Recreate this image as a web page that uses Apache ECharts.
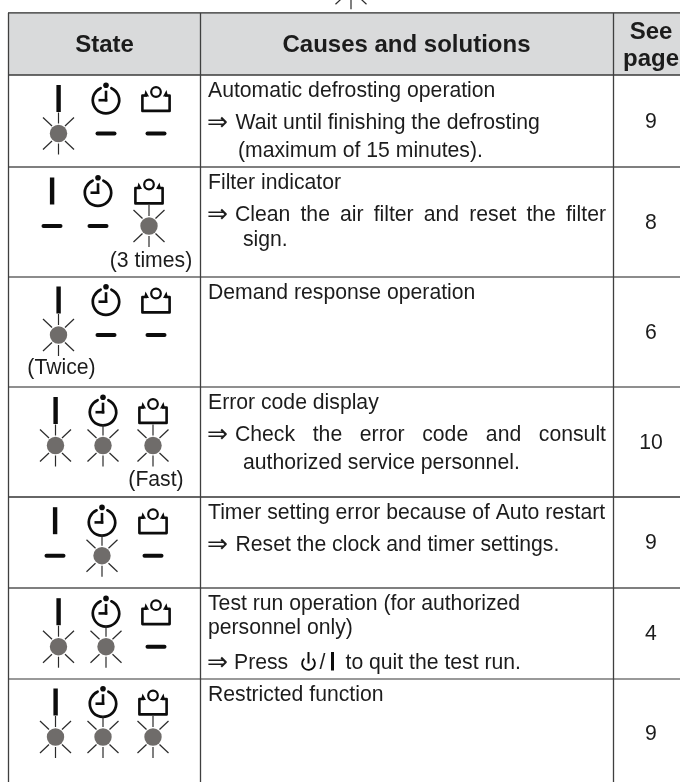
<!DOCTYPE html>
<html>
<head>
<meta charset="utf-8">
<title>Indicator states</title>
<style>
  html, body { margin: 0; padding: 0; background: #fff; }
  #chart { width: 680px; height: 782px; }
</style>
<script src="https://cdn.jsdelivr.net/npm/echarts@6/dist/echarts.min.js"></script>
</head>
<body>
<div id="chart"></div>
<script>
// ---- data of the table ----
var headers = ['State', 'Causes and solutions', 'See', 'page'];
var pages = ['9', '8', '6', '10', '9', '4', '9'];
// lamp state per row: operation, timer, filter (1 flashing, 0 off)
var lampStates = [
  [1, 0, 0],
  [0, 0, 1],
  [1, 0, 0],
  [1, 1, 1],
  [0, 1, 0],
  [1, 1, 0],
  [1, 1, 1]
];
var stateNotes = ['', '(3 times)', '(Twice)', '(Fast)', '', '', ''];
var causes = [
  'Automatic defrosting operation',
  'Filter indicator',
  'Demand response operation',
  'Error code display',
  'Timer setting error because of Auto restart',
  'Test run operation (for authorized',
  'Restricted function'
];
var causesLine2 = ['', '', '', '', '', 'personnel only)', ''];
var solutions = [
  ['Wait until finishing the defrosting', '(maximum of 15 minutes).'],
  ['Clean the air filter and reset the filter', 'sign.'],
  [],
  ['Check the error code and consult', 'authorized service personnel.'],
  ['Reset the clock and timer settings.'],
  ['Press', 'to quit the test run.'],
  []
];

// ---- layout, in page pixels ----
var rowEdges = [75, 167, 277, 387, 497, 588, 679, 788];
var rowLineColors = ['#3a3a3a', '#555', '#666', '#6a6a6a', '#333', '#555', '#777'];
var colEdges = [8.5, 200.5, 613.5];
var lampCols = [
  [58.5, 106, 156],
  [52, 98, 149],
  [58.5, 106, 156],
  [55.5, 103, 153],
  [55, 102, 153],
  [58.5, 106, 156],
  [55.5, 103, 153]
];
var lampY = [133.5, 226, 335, 445.5, 555.7, 646.7, 737];
var noteX = [0, 151, 61.5, 156];
var noteY = [0, 261.5, 368.5, 480.5];
var INK = '#0c0c0c';
var TEXT = '#1c1c1c';
var FONT = '"Liberation Sans", Arial, sans-serif';
var FS = 21.2;
var HEAD_FS = 24;
var ARROW_FS = 24.5;

var measure = document.createElement('canvas').getContext('2d');
function textWidth(s, fs) {
  measure.font = fs + 'px "Liberation Sans"';
  return measure.measureText(s).width;
}

function line(x1, y1, x2, y2, w, color, cap) {
  return { type: 'line', shape: { x1: x1, y1: y1, x2: x2, y2: y2 },
    style: { stroke: color, lineWidth: w, lineCap: cap || 'butt' } };
}
function label(x, y, s, fs, weight, align) {
  return { type: 'text', x: x, y: y,
    style: { text: s, fill: TEXT, font: (weight || 'normal') + ' ' + fs + 'px ' + FONT,
      align: align || 'left', verticalAlign: 'middle' } };
}

// sun-like flashing lamp
function flash(x, y) {
  var parts = [
    { type: 'circle', shape: { cx: x, cy: y, r: 8.7 }, style: { fill: '#6f6c6a' } },
    line(x, y - 21, x, y - 10, 1.2, '#2a2a2a'),
    line(x, y + 10, x, y + 21, 1.2, '#2a2a2a')
  ];
  [[-1, -1], [1, -1], [-1, 1], [1, 1]].forEach(function (d) {
    parts.push(line(x + d[0] * 6.5, y + d[1] * 7.5, x + d[0] * 15.5, y + d[1] * 16, 1.2, '#2a2a2a'));
  });
  return parts;
}
function dash(x, y) {
  return [line(x - 8.5, y, x + 8.5, y, 4, INK, 'round')];
}
function operationIcon(x, y) {
  return [{ type: 'rect', shape: { x: x - 2.1, y: y - 48.5, width: 4.4, height: 27 }, style: { fill: INK } }];
}
function timerIcon(x, y) {
  var cx = x, cy = y - 33.3, r = 13.2;
  return [
    { type: 'arc', shape: { cx: cx, cy: cy, r: r, startAngle: -Math.PI / 2 + 0.42, endAngle: -Math.PI / 2 - 0.42, clockwise: true },
      style: { stroke: INK, lineWidth: 2.7, fill: 'none', lineCap: 'round' } },
    { type: 'circle', shape: { cx: cx, cy: cy - 15, r: 2.8 }, style: { fill: INK } },
    line(cx, cy - 9.5, cx, cy + 1.3, 2.6, INK),
    line(cx - 7.5, cy, cx + 1.3, cy, 2.6, INK)
  ];
}
function filterIcon(x, y) {
  var cy = y - 33;
  return [
    { type: 'circle', shape: { cx: x, cy: cy - 8.5, r: 4.8 }, style: { fill: 'none', stroke: INK, lineWidth: 2.2 } },
    { type: 'polyline',
      shape: { points: [[x - 9, cy - 5], [x - 13.6, cy - 5], [x - 13.6, cy + 10.4], [x + 13.6, cy + 10.4], [x + 13.6, cy - 5], [x + 9, cy - 5]] },
      style: { fill: 'none', stroke: INK, lineWidth: 2.6, lineJoin: 'round' } },
    { type: 'polygon', shape: { points: [[x - 12, cy - 4], [x - 7, cy - 4], [x - 10.5, cy - 10.5]] }, style: { fill: INK } },
    { type: 'polygon', shape: { points: [[x + 12, cy - 4], [x + 7, cy - 4], [x + 10.5, cy - 10.5]] }, style: { fill: INK } }
  ];
}
// a line stretched word by word to the right margin, as the booklet does it
function justified(x0, x1, y, s) {
  var words = s.split(' ');
  var total = words.reduce(function (a, w) { return a + textWidth(w, FS); }, 0);
  var gap = (x1 - x0 - total) / (words.length - 1);
  var x = x0, out = [];
  words.forEach(function (w) {
    out.push(label(x, y, w, FS));
    x += textWidth(w, FS) + gap;
  });
  return out;
}

// the whole page is one pixel-sized value grid, table drawn with custom series
var option = {
  animation: false,
  grid: { left: 0, right: 0, top: 0, bottom: 0 },
  xAxis: { type: 'value', min: 0, max: 680, show: false },
  yAxis: { type: 'value', min: 0, max: 782, inverse: true, show: false },
  series: [
    {
      // frame
      type: 'custom', coordinateSystem: 'cartesian2d', silent: true, clip: false,
      data: [[0, 0]],
      renderItem: function () {
        var kids = [
          { type: 'rect', shape: { x: 8, y: 13, width: 672, height: 62 }, style: { fill: '#d9dadb' } },
          line(8, 12.8, 680, 12.8, 1.2, '#2a2a2a')
        ];
        rowEdges.slice(0, -1).forEach(function (y, i) {
          kids.push(line(8, y, 680, y, 1.4, rowLineColors[i]));
        });
        colEdges.forEach(function (x) {
          kids.push(line(x, 13, x, 782, 1.3, '#3f3f3f'));
        });
        return { type: 'group', children: kids };
      }
    },
    {
      // lamps
      type: 'custom', coordinateSystem: 'cartesian2d', silent: true,
      data: lampStates.map(function (r, i) { return [i, r[0], r[1], r[2]]; }),
      renderItem: function (params, api) {
        var i = api.value(0), kids = [];
        var y = api.coord([0, lampY[i]])[1];
        var xs = lampCols[i].map(function (v) { return api.coord([v, 0])[0]; });
        kids = kids.concat(operationIcon(xs[0], y), timerIcon(xs[1], y), filterIcon(xs[2], y));
        [1, 2, 3].forEach(function (k) {
          kids = kids.concat(api.value(k) ? flash(xs[k - 1], y) : dash(xs[k - 1], y));
        });
        return { type: 'group', children: kids };
      }
    },
    {
      // text
      type: 'custom', coordinateSystem: 'cartesian2d', silent: true,
      data: causes.map(function (c, i) { return [i]; }),
      renderItem: function (params, api) {
        var i = api.value(0), top = rowEdges[i], kids = [];
        var mid = (rowEdges[i] + rowEdges[i + 1]) / 2;
        kids.push(label(208, top + 16.2, causes[i], FS));
        kids.push(label(651, mid + 1, pages[i], FS, 'normal', 'center'));
        if (i === 5) {
          kids.push(label(208, top + 40.5, causesLine2[5], FS));
          kids.push(label(207, top + 75.5, '⇒', ARROW_FS));
          kids.push(label(234, top + 75.5, solutions[5][0], FS));
          kids.push({ type: 'arc', shape: { cx: 308.5, cy: top + 75.5, r: 6.4, startAngle: -Math.PI / 2 + 0.7, endAngle: -Math.PI / 2 - 0.7, clockwise: true }, style: { stroke: INK, lineWidth: 1.9, fill: 'none' } });
          kids.push(line(308.5, top + 64, 308.5, top + 75.5, 2, INK));
          kids.push(label(319.5, top + 75.5, '/', FS));
          kids.push({ type: 'rect', shape: { x: 331, y: top + 64, width: 3, height: 18.5 }, style: { fill: INK } });
          kids.push(label(345.5, top + 75.5, solutions[5][1], FS));
        } else if (solutions[i].length) {
          var y0 = top + 48.5;
          kids.push(label(207, y0, '⇒', ARROW_FS));
          if (i === 1 || i === 3) {
            kids = kids.concat(justified(235, 606, y0, solutions[i][0]));
          } else {
            kids.push(label(235.5, y0, solutions[i][0], FS));
          }
          if (solutions[i][1]) {
            kids.push(label(i === 0 ? 238 : 243, y0 + (i === 1 ? 25 : 27.5), solutions[i][1], FS));
          }
        }
        return { type: 'group', children: kids };
      }
    },
    {
      // header and notes, plus the tail of the lamp left over from the page above
      type: 'custom', coordinateSystem: 'cartesian2d', silent: true, clip: false,
      data: [[0]],
      renderItem: function () {
        var kids = [
          label(104.5, 45, headers[0], HEAD_FS, 'bold', 'center'),
          label(406.5, 45, headers[1], HEAD_FS, 'bold', 'center'),
          label(651, 32, headers[2], HEAD_FS, 'bold', 'center'),
          label(651, 59, headers[3], HEAD_FS, 'bold', 'center')
        ];
        [1, 2, 3].forEach(function (i) {
          kids.push(label(noteX[i], noteY[i], stateNotes[i], FS, 'normal', 'center'));
        });
        kids = kids.concat(flash(351, -11.7));
        return { type: 'group', children: kids };
      }
    }
  ]
};

var myChart = echarts.init(document.getElementById('chart'), null, { renderer: 'canvas' });
myChart.setOption(option);
</script>
</body>
</html>
